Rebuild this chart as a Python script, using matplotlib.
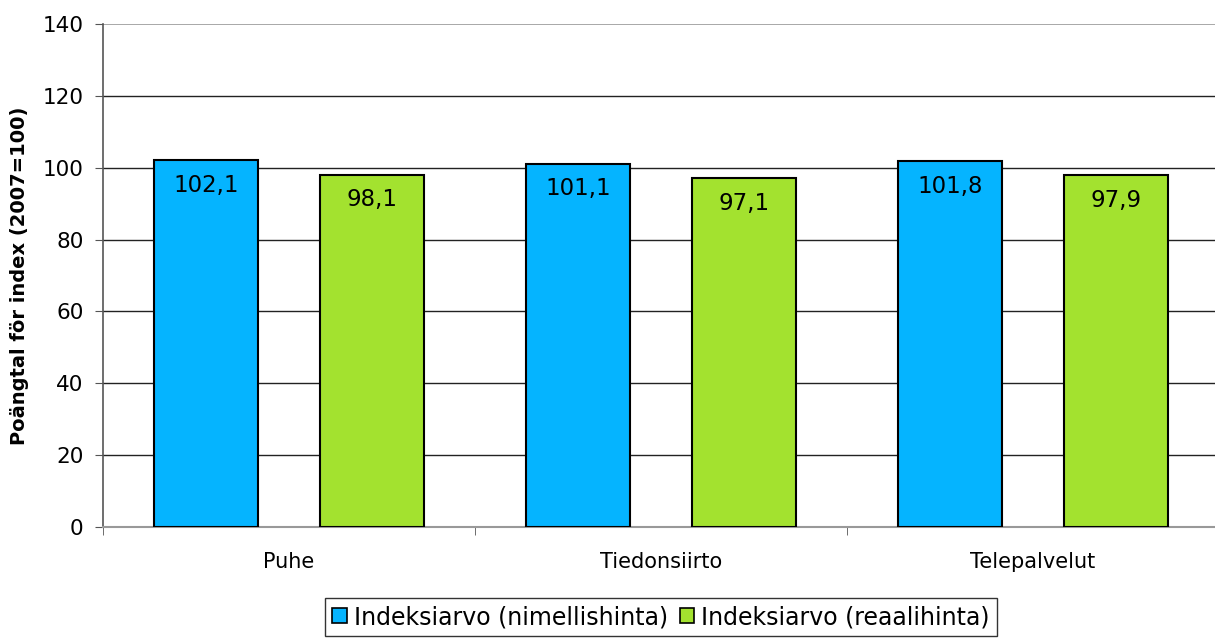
import matplotlib.pyplot as plt
import numpy as np
from matplotlib.patches import Patch

# Data
categories = ['Puhe', 'Tiedonsiirto', 'Telepalvelut']
nimellis = [102.1, 101.1, 101.8]
reaali = [98.1, 97.1, 97.9]
series_names = ['Indeksiarvo (nimellishinta)', 'Indeksiarvo (reaalihinta)']
colors = ['#05B4FF', '#A3E22F']

fig = plt.figure(figsize=(12.15, 6.39), dpi=100)
ax = fig.add_axes([103 / 1215, 1 - 527 / 639, 1116 / 1215, 503 / 639])

x = np.arange(len(categories))
w = 0.28
off = 0.223

for vals, dx, c in [(nimellis, -off, colors[0]), (reaali, off, colors[1])]:
    bars = ax.bar(x + dx, vals, width=w, color=c, edgecolor='black', linewidth=1.5, zorder=3)
    for b, v in zip(bars, vals):
        ax.text(b.get_x() + b.get_width() / 2, v - 7, f'{v:.1f}'.replace('.', ','),
                ha='center', va='center', fontsize=16.5, zorder=4)

ax.set_xlim(-0.5, 2.5)
ax.set_ylim(0, 140)
ax.set_yticks(range(0, 141, 20))
for yv in range(20, 141, 20):
    ax.axhline(yv, color='#999999' if yv == 140 else '#222222', linewidth=1.2 if yv == 140 else 1, zorder=1)

ax.set_xticks(x)
ax.set_xticklabels(categories, fontsize=15)
ax.tick_params(axis='x', length=0, pad=18)
ax.set_xticks([-0.5, 0.5, 1.5], minor=True)
ax.tick_params(axis='x', which='minor', length=6, color='#555555')
ax.tick_params(axis='y', labelsize=15.5, length=6, color='#555555', pad=8)

ax.spines['top'].set_visible(False)
ax.spines['right'].set_visible(False)
ax.spines['left'].set_color('#555555')
ax.spines['bottom'].set_color('#999999')
ax.spines['left'].set_linewidth(1.2)
ax.spines['bottom'].set_linewidth(1.5)

ax.set_ylabel('Poängtal för index (2007=100)', fontsize=14, fontweight='bold', labelpad=10)

handles = [Patch(facecolor=c, edgecolor='black', linewidth=1.2) for c in colors]
leg = fig.legend(handles, series_names, loc='center', bbox_to_anchor=(0.544, 0.034),
                 ncol=2, fontsize=17, frameon=True, fancybox=False, edgecolor='black',
                 handlelength=0.6, handleheight=0.6, handletextpad=0.3, columnspacing=0.5,
                 borderpad=0.3)
leg.get_frame().set_linewidth(1)

fig.savefig('out.png', dpi=100)
